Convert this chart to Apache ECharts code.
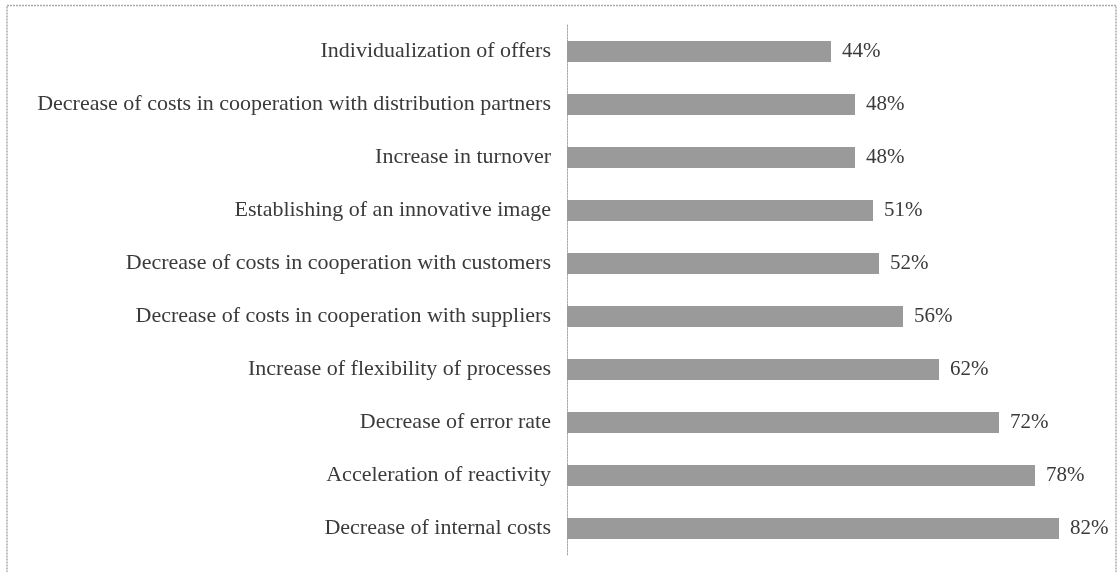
<!DOCTYPE html>
<html><head><meta charset="utf-8">
<script src="https://cdn.jsdelivr.net/npm/echarts@6/dist/echarts.min.js"></script>
<style>html,body{margin:0;padding:0;background:#fff}#c{width:1119px;height:572px}</style>
</head><body><div id="c"></div>
<script>
const categories = [
  "Decrease of internal costs",
  "Acceleration of reactivity",
  "Decrease of error rate",
  "Increase of flexibility of processes",
  "Decrease of costs in cooperation with suppliers",
  "Decrease of costs in cooperation with customers",
  "Establishing of an innovative image",
  "Increase in turnover",
  "Decrease of costs in cooperation with distribution partners",
  "Individualization of offers"
];
const values = [82, 78, 72, 62, 56, 52, 51, 48, 48, 44];

const chart = echarts.init(document.getElementById('c'));
chart.setOption({
  animation: false,
  graphic: [{type:'rect', shape:{x:7, y:5.5, width:1109, height:580}, style:{fill:'none', stroke:'#aaa', lineWidth:1.5, lineDash:[2,1]}}],
  grid: {left: 567, right: 12, top: 25, bottom: 17, containLabel: false},
  xAxis: {type:'value', min:0, max:90, show:false},
  yAxis: {
    type:'category', data: categories,
    axisLine:{show:true, lineStyle:{color:'#aaa', width:1, type:[2,1]}},
    axisTick:{show:false},
    axisLabel:{fontFamily:'Liberation Serif', fontSize:22, color:'#3a3a3a', margin:16}
  },
  series: [{
    type:'bar', data: values, barWidth: 21,
    itemStyle:{color:'#9a9a9a'},
    label:{show:true, position:'right', distance:11, formatter:'{c}%', fontFamily:'Liberation Serif', fontSize:21, color:'#3a3a3a'}
  }]
});
</script></body></html>
